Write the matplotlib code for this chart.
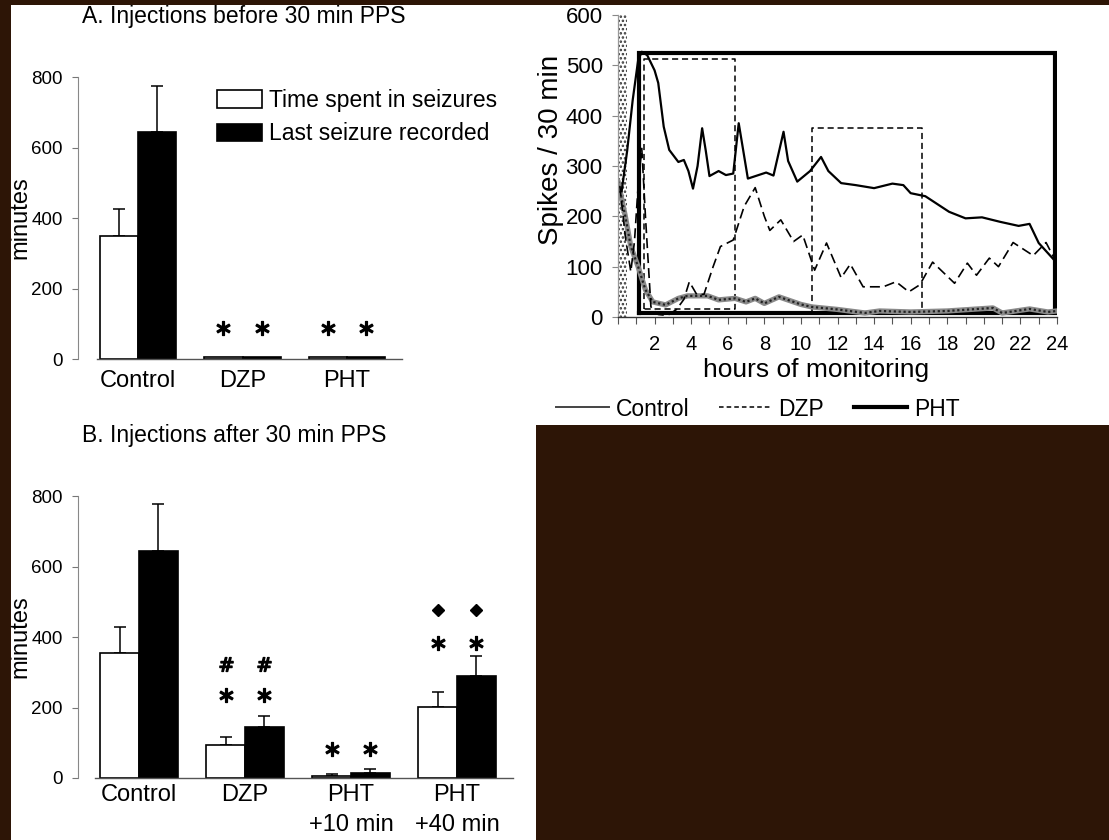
import numpy as np
import matplotlib
matplotlib.use("Agg")
import matplotlib.pyplot as plt
from matplotlib.patches import Rectangle, Patch
from matplotlib.lines import Line2D

plt.rcParams["font.family"] = ["Liberation Sans", "DejaVu Sans"]
plt.rcParams["hatch.linewidth"] = 1.2

W, H = 1109, 840
BG = "#2d1506"

# ---- panel A: injections before 30 min PPS
groups_a = ["Control", "DZP", "PHT"]
seiz_time_a = [350, 5, 5]
seiz_time_a_err = [76, 0, 0]
last_seiz_a = [644, 7, 7]
last_seiz_a_err = [130, 0, 0]
star_a_x = [1, 2]
star_a_y = [88, 88]

# ---- panel B: injections after 30 min PPS
groups_b = ["Control", "DZP", "PHT\n+10 min", "PHT\n+40 min"]
seiz_time_b = [354, 94, 5, 201]
seiz_time_b_err = [74, 22, 6, 43]
last_seiz_b = [644, 145, 15, 289]
last_seiz_b_err = [133, 31, 10, 57]
star_b_x = [1, 2, 3]
star_b_y = [235, 82, 383]
hash_b_x = [1]
hash_b_y = [323]
diam_b_x = [3]
diam_b_y = [477]

# ---- right panel: spikes / 30 min over 24 h
ctrl_h = [0.2, 0.5, 0.8, 1.1, 1.3, 1.6, 2.0, 2.2, 2.5, 2.8, 3.3, 3.6, 3.85, 4.1, 4.35,
          4.6, 4.8, 5.0, 5.5, 5.9, 6.3, 6.6, 6.85, 7.1, 7.6, 8.1, 8.5, 9.05, 9.3, 9.8,
          10.5, 11.1, 11.5, 12.2, 13.0, 14.0, 15.0, 15.6, 16.0, 16.8, 18.1, 19.0, 19.9,
          20.9, 21.9, 22.5, 23.0, 24.0]
ctrl_v = [250, 330, 430, 510, 527, 520, 490, 465, 378, 332, 308, 312, 290, 255, 300,
          375, 330, 280, 290, 282, 285, 385, 330, 275, 281, 287, 281, 368, 310, 269,
          290, 318, 290, 266, 262, 256, 265, 262, 246, 240, 209, 196, 198,
          189, 181, 185, 147, 107]
dzp_h = [0.1, 0.4, 0.7, 0.9, 1.1, 1.3, 1.5, 1.8, 2.2, 2.7, 3.2, 3.6, 3.9, 4.3, 4.7,
         5.2, 5.6, 6.3, 6.9, 7.5, 8.0, 8.3, 8.9, 9.6, 10.1, 10.75, 11.4, 12.2, 12.7,
         13.4, 14.5, 15.2, 15.9, 16.5, 17.2, 18.4, 19.1, 19.6, 20.3, 20.8, 21.6, 22.7,
         23.4, 23.9]
dzp_v = [260, 160, 90, 150, 260, 335, 200, 20, 5, 3, 15, 35, 70, 45, 45,
         100, 140, 153, 220, 257, 200, 172, 193, 150, 163, 93, 147, 78, 105,
         60, 60, 70, 50, 64, 109, 67, 107, 83, 117, 100, 148, 122,
         148, 113]
pht_h = [0.0, 0.4, 0.7, 1.1, 1.5, 1.9, 2.6, 3.3, 3.8, 4.9, 5.5, 6.4, 7.0, 7.5, 8.0,
         8.8, 10.0, 10.6, 12.0, 13.5, 14.3, 16.0, 18.0, 20.5, 21.0, 22.5, 23.5, 24.0]
pht_v = [270, 200, 140, 100, 54, 30, 24, 37, 42, 42, 34, 37, 30, 37, 27,
         40, 25, 20, 15, 8, 12, 10, 12, 18, 8, 16, 10, 12]
pht_box_h = [1.15, 1.15, 23.9, 23.9, 1.15]
pht_box_v = [8, 525, 525, 8, 8]
dzp_box1_h = [1.42, 1.42, 6.4, 6.4, 1.42]
dzp_box1_v = [15, 512, 512, 15, 15]
dzp_box2_h = [10.6, 10.6, 16.6, 16.6]
dzp_box2_v = [12, 375, 375, 12]
stim_span = [0.0, 0.5]


def px_axes(fig, l, t, r, b):
    return fig.add_axes([l / W, 1 - b / H, (r - l) / W, (b - t) / H])


fig = plt.figure(figsize=(W / 100, H / 100), dpi=100, facecolor="white")

# dark background around the scanned panels
for x0, y0, w, h in [(0, 0, W, 5), (0, 0, 11, H), (536, 425, W - 536, H - 425)]:
    fig.add_artist(Rectangle((x0 / W, 1 - (y0 + h) / H), w / W, h / H,
                             transform=fig.transFigure, facecolor=BG,
                             edgecolor="none", zorder=10))


def bar_panel(ax, groups, v1, e1, v2, e2, xlim, spine_left, xpad, width_px):
    x = np.arange(len(groups))
    w = 0.365
    ax.bar(x - w / 2, v1, w, color="white", edgecolor="black", lw=1.2, zorder=2)
    ax.bar(x + w / 2, v2, w, color="black", edgecolor="black", lw=1.2, zorder=2)
    for xs, vals, errs in [(x - w / 2, v1, e1), (x + w / 2, v2, e2)]:
        idx = [i for i, e in enumerate(errs) if e > 0]
        ax.errorbar(xs[idx], np.array(vals)[idx],
                    yerr=[np.zeros(len(idx)), np.array(errs)[idx]],
                    fmt="none", ecolor="black", elinewidth=1.1, capsize=4.5,
                    capthick=1.1, zorder=1)
    ax.set_xlim(*xlim)
    ax.set_ylim(0, 800)
    ax.set_yticks([0, 200, 400, 600, 800])
    ax.set_xticks(x)
    ax.set_xticklabels(groups, fontsize=17, linespacing=1.5)
    ax.tick_params(axis="x", length=0, pad=xpad)
    ax.tick_params(axis="y", direction="out", length=4, width=0.8, colors="#777777",
                   labelcolor="black", labelsize=13.5, pad=7)
    for s in ["top", "right"]:
        ax.spines[s].set_visible(False)
    ax.spines["left"].set_color("#888888")
    ax.spines["left"].set_linewidth(0.8)
    ax.spines["bottom"].set_color("#555555")
    ax.spines["bottom"].set_linewidth(1.0)
    ax.spines["bottom"].set_bounds(spine_left, xlim[1])
    ax.set_ylabel("minutes", fontsize=17)
    ax.yaxis.set_label_coords((31.5 - 78) / width_px, 0.5)
    ax.patch.set_alpha(0)
    return w


# panel A
axA = px_axes(fig, 78, 77, 402, 359)
w = bar_panel(axA, groups_a, seiz_time_a, seiz_time_a_err, last_seiz_a, last_seiz_a_err,
              (-0.574, 2.526), -0.392, 8, 324)
for xs in [np.array(star_a_x) - w / 2, np.array(star_a_x) + w / 2]:
    axA.plot(xs, star_a_y, ls="none", marker="$\\ast$", ms=10, color="black")
fig.text(82 / W, 1 - 17 / H, "A. Injections before 30 min PPS", fontsize=16.5,
         ha="left", va="center")
axA.legend(handles=[Patch(facecolor="white", edgecolor="black", lw=1.2),
                    Patch(facecolor="black", edgecolor="black", lw=1.2)],
           labels=["Time spent in seizures", "Last seizure recorded"],
           loc="upper left", bbox_to_anchor=(217 / W, 1 - 89 / H),
           bbox_transform=fig.transFigure, frameon=False, fontsize=16.5,
           handlelength=1.95, handleheight=0.8, handletextpad=0.3,
           labelspacing=0.45, borderpad=0, borderaxespad=0)

# panel B
axB = px_axes(fig, 78, 496, 513, 778)
w = bar_panel(axB, groups_b, seiz_time_b, seiz_time_b_err, last_seiz_b, last_seiz_b_err,
              (-0.575, 3.528), -0.415, 4, 435)
for xs in [np.array(star_b_x) - w / 2, np.array(star_b_x) + w / 2]:
    axB.plot(xs, star_b_y, ls="none", marker="$\\ast$", ms=10, color="black")
for xs in [np.array(hash_b_x) - w / 2, np.array(hash_b_x) + w / 2]:
    axB.plot(xs, hash_b_y, ls="none", marker="$\\#$", ms=10, color="black")
for xs in [np.array(diam_b_x) - w / 2, np.array(diam_b_x) + w / 2]:
    axB.plot(xs, diam_b_y, ls="none", marker="D", ms=6.5, color="black")
fig.text(82 / W, 1 - 435 / H, "B. Injections after 30 min PPS", fontsize=16.5,
         ha="left", va="center")

# right panel: spike traces
axC = px_axes(fig, 618, 15, 1057, 317)
axC.axvspan(*stim_span, facecolor="none", edgecolor="#333333", hatch="....", lw=0)
axC.plot(pht_box_h, pht_box_v, color="black", lw=3, solid_joinstyle="miter")
axC.plot(dzp_box1_h, dzp_box1_v, color="black", lw=1.1, ls=(0, (4, 2.5)))
axC.plot(dzp_box2_h, dzp_box2_v, color="black", lw=1.1, ls=(0, (4, 2.5)))
axC.plot(pht_h, pht_v, color="#8a8a8a", lw=3.8, solid_capstyle="round")
axC.plot(pht_h, pht_v, color="#222222", lw=1.6, ls=(0, (1, 1.2)))
axC.plot(dzp_h, dzp_v, color="black", lw=1.2, ls=(0, (6, 3)))
axC.plot(ctrl_h, ctrl_v, color="black", lw=1.6)
axC.set_xlim(0, 24)
axC.set_ylim(0, 600)
axC.set_yticks(range(0, 601, 100))
axC.set_xticks(range(2, 25, 2))
axC.set_xticks(range(0, 25), minor=True)
axC.tick_params(axis="x", which="both", direction="out", length=5, width=0.8,
                colors="#555555", labelcolor="black", labelsize=14.5, pad=8)
axC.tick_params(axis="y", direction="out", length=4, width=0.8, colors="#888888",
                labelcolor="black", labelsize=16, pad=7)
for s in ["top", "right"]:
    axC.spines[s].set_visible(False)
axC.spines["left"].set_color("#999999")
axC.spines["left"].set_linewidth(0.9)
axC.spines["bottom"].set_color("#333333")
axC.spines["bottom"].set_linewidth(1.0)
axC.set_xlabel("hours of monitoring", fontsize=19, labelpad=4)
axC.xaxis.set_label_coords((816 - 618) / 439, -0.137)
axC.set_ylabel("Spikes / 30 min", fontsize=20)
axC.yaxis.set_label_coords((564 - 618) / 439, (317 - 150) / 302)
axC.patch.set_alpha(0)
axC.legend(handles=[Line2D([], [], color="#444444", lw=1.4),
                    Line2D([], [], color="black", lw=1.1, ls=(0, (3, 2))),
                    Line2D([], [], color="black", lw=3)],
           labels=["Control", "DZP", "PHT"], ncol=3,
           loc="center left", bbox_to_anchor=(556 / W, 1 - 409 / H),
           bbox_transform=fig.transFigure, frameon=False, fontsize=16.5,
           handlelength=2.3, handletextpad=0.3, columnspacing=1.3,
           borderpad=0, borderaxespad=0)

fig.savefig("out.png", dpi=100, facecolor=fig.get_facecolor())
